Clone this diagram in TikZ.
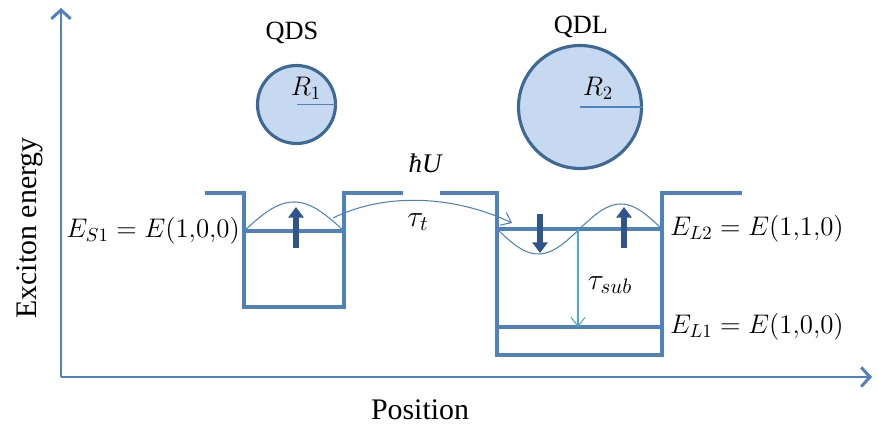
\documentclass[tikz,border=0pt]{standalone}
\usepackage{fix-cm}
\usepackage{amsmath}
\usepackage[no-math]{fontspec}
\setmainfont{Liberation Serif}
\usetikzlibrary{arrows.meta}
\definecolor{wellblue}{RGB}{79,129,189}
\definecolor{dotblue}{RGB}{62,105,150}
\definecolor{dotfill}{RGB}{198,217,240}
\definecolor{spinblue}{RGB}{47,85,140}
\definecolor{relaxcyan}{RGB}{75,172,198}
\tikzset
{
  axis/.style={draw=wellblue,line width=1.7pt,-{Straight Barb[length=5pt,width=11pt,line width=1.7pt]}},
  well/.style={draw=wellblue,line width=2.1pt},
  wave/.style={draw=wellblue,line width=0.6pt},
  spin/.style={draw=spinblue,line width=3.6pt,-{Triangle[length=6pt,width=8.5pt]}},
  dot/.style={circle,draw=dotblue,line width=1.8pt,fill=dotfill,inner sep=0pt},
  lbl/.style={inner sep=1pt},
  eqlbl/.style={inner sep=1pt,font=\fontsize{15.3pt}{18pt}\selectfont}
}

\begin{document}
\begin{tikzpicture}[x=0.02cm,y=-0.02cm,font=\fontsize{15pt}{18pt}\selectfont]

    \useasboundingbox (0,0) rectangle (878,425);

    % Energies of the levels (pixel rows)
    \pgfmathsetmacro{\barrtop}{193}
    \pgfmathsetmacro{\eS}{231}
    \pgfmathsetmacro{\eLtwo}{229}
    \pgfmathsetmacro{\eLone}{327}

    % Draw the axes
    \coordinate (origin) at (61,377);
    \coordinate (ytip) at (61,8);
    \coordinate (xtip) at (872,377);
    \draw[axis] (origin) -- (ytip);
    \draw[axis] (origin) -- (xtip);
    \node[rotate=90,font=\fontsize{17pt}{20pt}\selectfont] (ylab) at (30,228) {Exciton energy};
    \node[font=\fontsize{17pt}{20pt}\selectfont] (xlab) at (420,410) {Position};

    % Draw the small dot (QDS) and the large dot (QDL)
    \node[dot,minimum size=1.56cm] (qds) at (296.5,104.5) {};
    \draw[wellblue,line width=0.6pt] (qds.center) -- (qds.east);
    \node[eqlbl] (r1) at (306,88) {$R_1$};
    \node[lbl] (qdslab) at (292,33) {QDS};

    \node[dot,minimum size=2.46cm] (qdl) at (580,107) {};
    \draw[wellblue,line width=0.6pt] (qdl.center) -- (qdl.east);
    \node[eqlbl] (r2) at (598,88) {$R_2$};
    \node[lbl] (qdllab) at (581,27) {QDL};

    % Draw the potential profile of the two wells
    \draw[well] (205,\barrtop) -- (244,\barrtop) -- (244,307) -- (344,307) -- (344,\barrtop) -- (403,\barrtop);
    \draw[well] (440,\barrtop) -- (497,\barrtop) -- (497,355) -- (662,355) -- (662,\barrtop) -- (742,\barrtop);
    \node[eqlbl] (barrier) at (425,163) {\itshape ħU};

    % Draw the levels
    \draw[well] (244,\eS) -- (344,\eS);
    \draw[well] (497,\eLtwo) -- (662,\eLtwo);
    \draw[well] (497,\eLone) -- (662,\eLone);
    \node[eqlbl,anchor=east] (es1) at (242,\eS) {$E_{S1}=E(1{,}0{,}0)$};
    \node[eqlbl,anchor=west] (el2) at (668,\eLtwo) {$E_{L2}=E(1{,}1{,}0)$};
    \node[eqlbl,anchor=west] (el1) at (668,\eLone) {$E_{L1}=E(1{,}0{,}0)$};

    % Draw the wave functions (angles kept small for pgfmath)
    \draw[wave] plot[domain=244:344,samples=40] (\x,{\eS-29*sin(1.8*(\x-244))});
    \draw[wave] plot[domain=497:662,samples=60] (\x,{\eLtwo+25*sin(2.1818*(\x-497))});

    % Draw the spins
    \coordinate (s1a) at (296,248);
    \coordinate (s1b) at (296,207);
    \coordinate (l2a) at (540,214);
    \coordinate (l2b) at (540,253);
    \coordinate (l3a) at (624,248);
    \coordinate (l3b) at (624,207);
    \draw[spin] (s1a) -- (s1b);
    \draw[spin] (l2a) -- (l2b);
    \draw[spin] (l3a) -- (l3b);

    % Draw the transfer and the relaxation
    \coordinate (tfrom) at (333,218);
    \coordinate (tto) at (512,223);
    \draw[wave,-{Straight Barb[length=5pt,width=8pt]}] (tfrom) .. controls (390,190) and (460,198) .. (tto);
    \node[lbl,font=\fontsize{17pt}{20pt}\selectfont] (taut) at (418,222) {$\tau_t$};

    \coordinate (sfrom) at (578,\eLtwo);
    \coordinate (sto) at (578,\eLone);
    \draw[relaxcyan,line width=0.6pt,-{Straight Barb[length=5pt,width=8pt]}] (sfrom) -- (sto);
    \node[lbl,font=\fontsize{17pt}{20pt}\selectfont] (tausub) at (610,285) {$\tau_{sub}$};

\end{tikzpicture}
\end{document}
